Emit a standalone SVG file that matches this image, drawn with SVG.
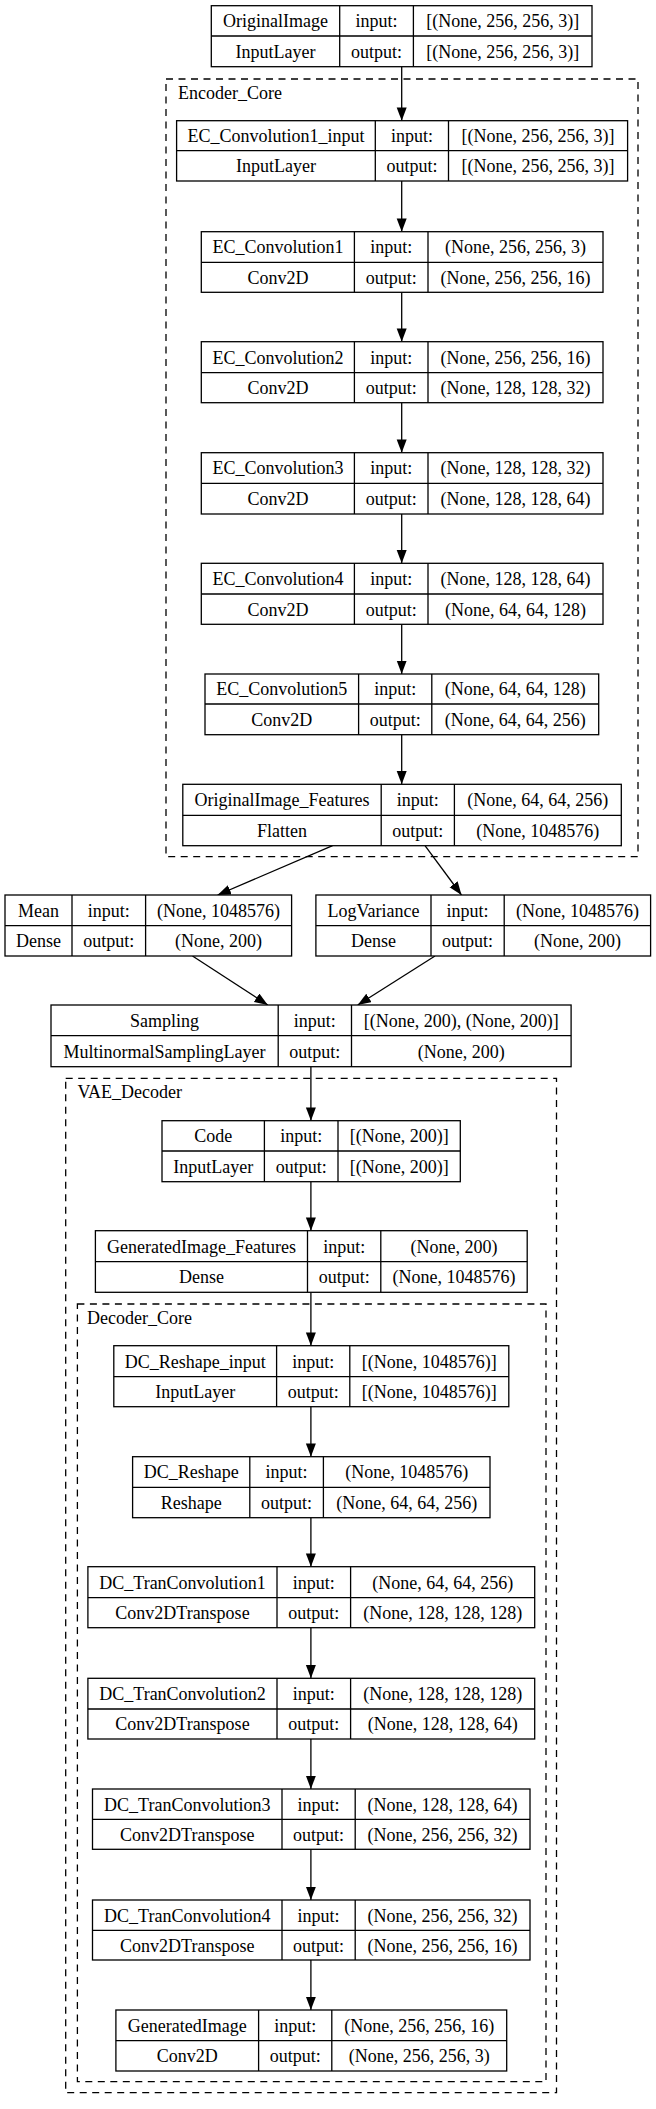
<svg xmlns="http://www.w3.org/2000/svg" width="656" height="2109" viewBox="0 0 656 2109" font-family="'Liberation Serif', 'Times New Roman', 'DejaVu Serif', serif">
<defs>
<marker id="ah" markerUnits="userSpaceOnUse" markerWidth="14" markerHeight="11" refX="13.3" refY="5" orient="auto">
<path d="M0,0 L13.3,5 L0,10 z" fill="#000"/>
</marker>
<style>
.box{fill:#fff;stroke:#000;stroke-width:1.3}
.ln{stroke:#000;stroke-width:1.3;fill:none}
.cl{fill:none;stroke:#000;stroke-width:1.3;stroke-dasharray:7,5.5}
text{font-family:'Liberation Serif','Times New Roman','DejaVu Serif',serif;font-size:18px;fill:#000}
.m{text-anchor:middle}
.e{stroke:#000;stroke-width:1.3;fill:none;marker-end:url(#ah)}
</style>
</defs>
<rect width="656" height="2109" fill="#fff"/>

<g id="cluster_Encoder_Core"><rect class="cl" x="166" y="79" width="472" height="777.7"/><text x="178" y="99">Encoder_Core</text></g>
<g id="cluster_VAE_Decoder"><rect class="cl" x="65.7" y="1078.3" width="490.8" height="1014.4"/><text x="77.4" y="1098">VAE_Decoder</text></g>
<g id="cluster_Decoder_Core"><rect class="cl" x="77.4" y="1304" width="468.6" height="777.7"/><text x="87" y="1324.3">Decoder_Core</text></g>

<g id="connectors">
<line class="e" x1="401.7" y1="66.7" x2="401.7" y2="120.7"/>
<line class="e" x1="401.7" y1="181" x2="401.7" y2="231.7"/>
<line class="e" x1="401.7" y1="292.3" x2="401.7" y2="341.7"/>
<line class="e" x1="401.7" y1="402.7" x2="401.7" y2="452.7"/>
<line class="e" x1="401.7" y1="514" x2="401.7" y2="563.3"/>
<line class="e" x1="401.7" y1="624.3" x2="401.7" y2="674"/>
<line class="e" x1="401.7" y1="734.7" x2="401.7" y2="784.3"/>
<line class="e" x1="332.6" y1="845.7" x2="217.6" y2="895"/>
<line class="e" x1="425" y1="845.7" x2="461.5" y2="895"/>
<line class="e" x1="192.5" y1="956" x2="267.8" y2="1005"/>
<line class="e" x1="435" y1="956" x2="357.7" y2="1005"/>
<line class="e" x1="310.9" y1="1066.7" x2="310.9" y2="1120.7"/>
<line class="e" x1="310.9" y1="1181.7" x2="310.9" y2="1230.7"/>
<line class="e" x1="310.9" y1="1292.3" x2="310.9" y2="1345.7"/>
<line class="e" x1="310.9" y1="1406.7" x2="310.9" y2="1456.7"/>
<line class="e" x1="310.9" y1="1517.7" x2="310.9" y2="1566.7"/>
<line class="e" x1="310.9" y1="1627.7" x2="310.9" y2="1678.3"/>
<line class="e" x1="310.9" y1="1739" x2="310.9" y2="1789"/>
<line class="e" x1="310.9" y1="1849.3" x2="310.9" y2="1900"/>
<line class="e" x1="310.9" y1="1960" x2="310.9" y2="2010"/>
</g>

<g id="OriginalImage">
<rect class="box" x="211.3" y="5.7" width="380.7" height="61"/>
<path class="ln" d="M211.3,36H592M339.7,5.7V66.7M413.4,5.7V66.7"/>
<text class="m" x="275.5" y="27.2">OriginalImage</text><text class="m" x="376.5" y="27.2">input:</text><text class="m" x="502.7" y="27.2">[(None, 256, 256, 3)]</text>
<text class="m" x="275.5" y="57.7">InputLayer</text><text class="m" x="376.5" y="57.7">output:</text><text class="m" x="502.7" y="57.7">[(None, 256, 256, 3)]</text>
</g>

<g id="EC_Convolution1_input">
<rect class="box" x="176.6" y="120.7" width="451" height="60.3"/>
<path class="ln" d="M176.6,150.7H627.6M375.3,120.7V181M448.5,120.7V181"/>
<text class="m" x="276" y="142">EC_Convolution1_input</text><text class="m" x="411.9" y="142">input:</text><text class="m" x="538" y="142">[(None, 256, 256, 3)]</text>
<text class="m" x="276" y="172.2">InputLayer</text><text class="m" x="411.9" y="172.2">output:</text><text class="m" x="538" y="172.2">[(None, 256, 256, 3)]</text>
</g>

<g id="EC_Convolution1">
<rect class="box" x="201.3" y="231.7" width="401.7" height="60.6"/>
<path class="ln" d="M201.3,262.3H603M354.4,231.7V292.3M428,231.7V292.3"/>
<text class="m" x="277.9" y="253.3">EC_Convolution1</text><text class="m" x="391.2" y="253.3">input:</text><text class="m" x="515.5" y="253.3">(None, 256, 256, 3)</text>
<text class="m" x="277.9" y="283.6">Conv2D</text><text class="m" x="391.2" y="283.6">output:</text><text class="m" x="515.5" y="283.6">(None, 256, 256, 16)</text>
</g>

<g id="EC_Convolution2">
<rect class="box" x="201.3" y="341.7" width="401.7" height="61"/>
<path class="ln" d="M201.3,372.7H603M354.4,341.7V402.7M428,341.7V402.7"/>
<text class="m" x="277.9" y="363.5">EC_Convolution2</text><text class="m" x="391.2" y="363.5">input:</text><text class="m" x="515.5" y="363.5">(None, 256, 256, 16)</text>
<text class="m" x="277.9" y="394">Conv2D</text><text class="m" x="391.2" y="394">output:</text><text class="m" x="515.5" y="394">(None, 128, 128, 32)</text>
</g>

<g id="EC_Convolution3">
<rect class="box" x="201.3" y="452.7" width="401.7" height="61.3"/>
<path class="ln" d="M201.3,483.3H603M354.4,452.7V514M428,452.7V514"/>
<text class="m" x="277.9" y="474.3">EC_Convolution3</text><text class="m" x="391.2" y="474.3">input:</text><text class="m" x="515.5" y="474.3">(None, 128, 128, 32)</text>
<text class="m" x="277.9" y="505">Conv2D</text><text class="m" x="391.2" y="505">output:</text><text class="m" x="515.5" y="505">(None, 128, 128, 64)</text>
</g>

<g id="EC_Convolution4">
<rect class="box" x="201.3" y="563.3" width="401.7" height="61"/>
<path class="ln" d="M201.3,594H603M354.4,563.3V624.3M428,563.3V624.3"/>
<text class="m" x="277.9" y="585">EC_Convolution4</text><text class="m" x="391.2" y="585">input:</text><text class="m" x="515.5" y="585">(None, 128, 128, 64)</text>
<text class="m" x="277.9" y="615.5">Conv2D</text><text class="m" x="391.2" y="615.5">output:</text><text class="m" x="515.5" y="615.5">(None, 64, 64, 128)</text>
</g>

<g id="EC_Convolution5">
<rect class="box" x="205" y="674" width="393.7" height="60.7"/>
<path class="ln" d="M205,704H598.7M358.6,674V734.7M431.8,674V734.7"/>
<text class="m" x="281.8" y="695.3">EC_Convolution5</text><text class="m" x="395.2" y="695.3">input:</text><text class="m" x="515.25" y="695.3">(None, 64, 64, 128)</text>
<text class="m" x="281.8" y="725.7">Conv2D</text><text class="m" x="395.2" y="725.7">output:</text><text class="m" x="515.25" y="725.7">(None, 64, 64, 256)</text>
</g>

<g id="OriginalImage_Features">
<rect class="box" x="182.8" y="784.3" width="438.5" height="61.4"/>
<path class="ln" d="M182.8,815.3H621.3M381.2,784.3V845.7M454.4,784.3V845.7"/>
<text class="m" x="282" y="806.1">OriginalImage_Features</text><text class="m" x="417.8" y="806.1">input:</text><text class="m" x="537.85" y="806.1">(None, 64, 64, 256)</text>
<text class="m" x="282" y="836.8">Flatten</text><text class="m" x="417.8" y="836.8">output:</text><text class="m" x="537.85" y="836.8">(None, 1048576)</text>
</g>

<g id="Mean">
<rect class="box" x="5" y="895" width="286.6" height="61"/>
<path class="ln" d="M5,925.7H291.6M72,895V956M145.6,895V956"/>
<text class="m" x="38.5" y="916.7">Mean</text><text class="m" x="108.8" y="916.7">input:</text><text class="m" x="218.6" y="916.7">(None, 1048576)</text>
<text class="m" x="38.5" y="947.2">Dense</text><text class="m" x="108.8" y="947.2">output:</text><text class="m" x="218.6" y="947.2">(None, 200)</text>
</g>

<g id="LogVariance">
<rect class="box" x="315.9" y="895" width="334.7" height="61"/>
<path class="ln" d="M315.9,925.7H650.6M431,895V956M504.2,895V956"/>
<text class="m" x="373.45" y="916.7">LogVariance</text><text class="m" x="467.6" y="916.7">input:</text><text class="m" x="577.4" y="916.7">(None, 1048576)</text>
<text class="m" x="373.45" y="947.2">Dense</text><text class="m" x="467.6" y="947.2">output:</text><text class="m" x="577.4" y="947.2">(None, 200)</text>
</g>

<g id="Sampling">
<rect class="box" x="51" y="1005" width="520.1" height="61.7"/>
<path class="ln" d="M51,1035.7H571.1M278.2,1005V1066.7M351.5,1005V1066.7"/>
<text class="m" x="164.6" y="1026.7">Sampling</text><text class="m" x="314.85" y="1026.7">input:</text><text class="m" x="461.3" y="1026.7">[(None, 200), (None, 200)]</text>
<text class="m" x="164.6" y="1057.5">MultinormalSamplingLayer</text><text class="m" x="314.85" y="1057.5">output:</text><text class="m" x="461.3" y="1057.5">(None, 200)</text>
</g>

<g id="Code">
<rect class="box" x="162" y="1120.7" width="298.3" height="61"/>
<path class="ln" d="M162,1151H460.3M264.4,1120.7V1181.7M338,1120.7V1181.7"/>
<text class="m" x="213.2" y="1142.2">Code</text><text class="m" x="301.2" y="1142.2">input:</text><text class="m" x="399.15" y="1142.2">[(None, 200)]</text>
<text class="m" x="213.2" y="1172.7">InputLayer</text><text class="m" x="301.2" y="1172.7">output:</text><text class="m" x="399.15" y="1172.7">[(None, 200)]</text>
</g>

<g id="GeneratedImage_Features">
<rect class="box" x="95.4" y="1230.7" width="431.8" height="61.6"/>
<path class="ln" d="M95.4,1261.7H527.2M307.5,1230.7V1292.3M380.8,1230.7V1292.3"/>
<text class="m" x="201.45" y="1252.5">GeneratedImage_Features</text><text class="m" x="344.15" y="1252.5">input:</text><text class="m" x="454" y="1252.5">(None, 200)</text>
<text class="m" x="201.45" y="1283.3">Dense</text><text class="m" x="344.15" y="1283.3">output:</text><text class="m" x="454" y="1283.3">(None, 1048576)</text>
</g>

<g id="DC_Reshape_input">
<rect class="box" x="113.8" y="1345.7" width="395" height="61"/>
<path class="ln" d="M113.8,1376.7H508.8M276.6,1345.7V1406.7M349.8,1345.7V1406.7"/>
<text class="m" x="195.2" y="1367.5">DC_Reshape_input</text><text class="m" x="313.2" y="1367.5">input:</text><text class="m" x="429.3" y="1367.5">[(None, 1048576)]</text>
<text class="m" x="195.2" y="1398">InputLayer</text><text class="m" x="313.2" y="1398">output:</text><text class="m" x="429.3" y="1398">[(None, 1048576)]</text>
</g>

<g id="DC_Reshape">
<rect class="box" x="132.6" y="1456.7" width="357.4" height="61"/>
<path class="ln" d="M132.6,1487.3H490M249.8,1456.7V1517.7M323.4,1456.7V1517.7"/>
<text class="m" x="191.2" y="1478.3">DC_Reshape</text><text class="m" x="286.6" y="1478.3">input:</text><text class="m" x="406.7" y="1478.3">(None, 1048576)</text>
<text class="m" x="191.2" y="1508.8">Reshape</text><text class="m" x="286.6" y="1508.8">output:</text><text class="m" x="406.7" y="1508.8">(None, 64, 64, 256)</text>
</g>

<g id="DC_TranConvolution1">
<rect class="box" x="87.9" y="1566.7" width="446.8" height="61"/>
<path class="ln" d="M87.9,1597.7H534.7M277,1566.7V1627.7M350.6,1566.7V1627.7"/>
<text class="m" x="182.45" y="1588.5">DC_TranConvolution1</text><text class="m" x="313.8" y="1588.5">input:</text><text class="m" x="442.65" y="1588.5">(None, 64, 64, 256)</text>
<text class="m" x="182.45" y="1619">Conv2DTranspose</text><text class="m" x="313.8" y="1619">output:</text><text class="m" x="442.65" y="1619">(None, 128, 128, 128)</text>
</g>

<g id="DC_TranConvolution2">
<rect class="box" x="87.9" y="1678.3" width="446.8" height="60.7"/>
<path class="ln" d="M87.9,1709H534.7M277,1678.3V1739M350.6,1678.3V1739"/>
<text class="m" x="182.45" y="1700">DC_TranConvolution2</text><text class="m" x="313.8" y="1700">input:</text><text class="m" x="442.65" y="1700">(None, 128, 128, 128)</text>
<text class="m" x="182.45" y="1730.3">Conv2DTranspose</text><text class="m" x="313.8" y="1730.3">output:</text><text class="m" x="442.65" y="1730.3">(None, 128, 128, 64)</text>
</g>

<g id="DC_TranConvolution3">
<rect class="box" x="92.5" y="1789" width="437.5" height="60.3"/>
<path class="ln" d="M92.5,1819.3H530M282,1789V1849.3M355.2,1789V1849.3"/>
<text class="m" x="187.25" y="1810.5">DC_TranConvolution3</text><text class="m" x="318.6" y="1810.5">input:</text><text class="m" x="442.6" y="1810.5">(None, 128, 128, 64)</text>
<text class="m" x="187.25" y="1840.6">Conv2DTranspose</text><text class="m" x="318.6" y="1840.6">output:</text><text class="m" x="442.6" y="1840.6">(None, 256, 256, 32)</text>
</g>

<g id="DC_TranConvolution4">
<rect class="box" x="92.5" y="1900" width="437.5" height="60"/>
<path class="ln" d="M92.5,1930.3H530M282,1900V1960M355.2,1900V1960"/>
<text class="m" x="187.25" y="1921.5">DC_TranConvolution4</text><text class="m" x="318.6" y="1921.5">input:</text><text class="m" x="442.6" y="1921.5">(None, 256, 256, 32)</text>
<text class="m" x="187.25" y="1951.5">Conv2DTranspose</text><text class="m" x="318.6" y="1951.5">output:</text><text class="m" x="442.6" y="1951.5">(None, 256, 256, 16)</text>
</g>

<g id="GeneratedImage">
<rect class="box" x="115.9" y="2010" width="390.8" height="61"/>
<path class="ln" d="M115.9,2040.7H506.7M258.6,2010V2071M331.8,2010V2071"/>
<text class="m" x="187.25" y="2031.7">GeneratedImage</text><text class="m" x="295.2" y="2031.7">input:</text><text class="m" x="419.25" y="2031.7">(None, 256, 256, 16)</text>
<text class="m" x="187.25" y="2062.2">Conv2D</text><text class="m" x="295.2" y="2062.2">output:</text><text class="m" x="419.25" y="2062.2">(None, 256, 256, 3)</text>
</g>
</svg>
